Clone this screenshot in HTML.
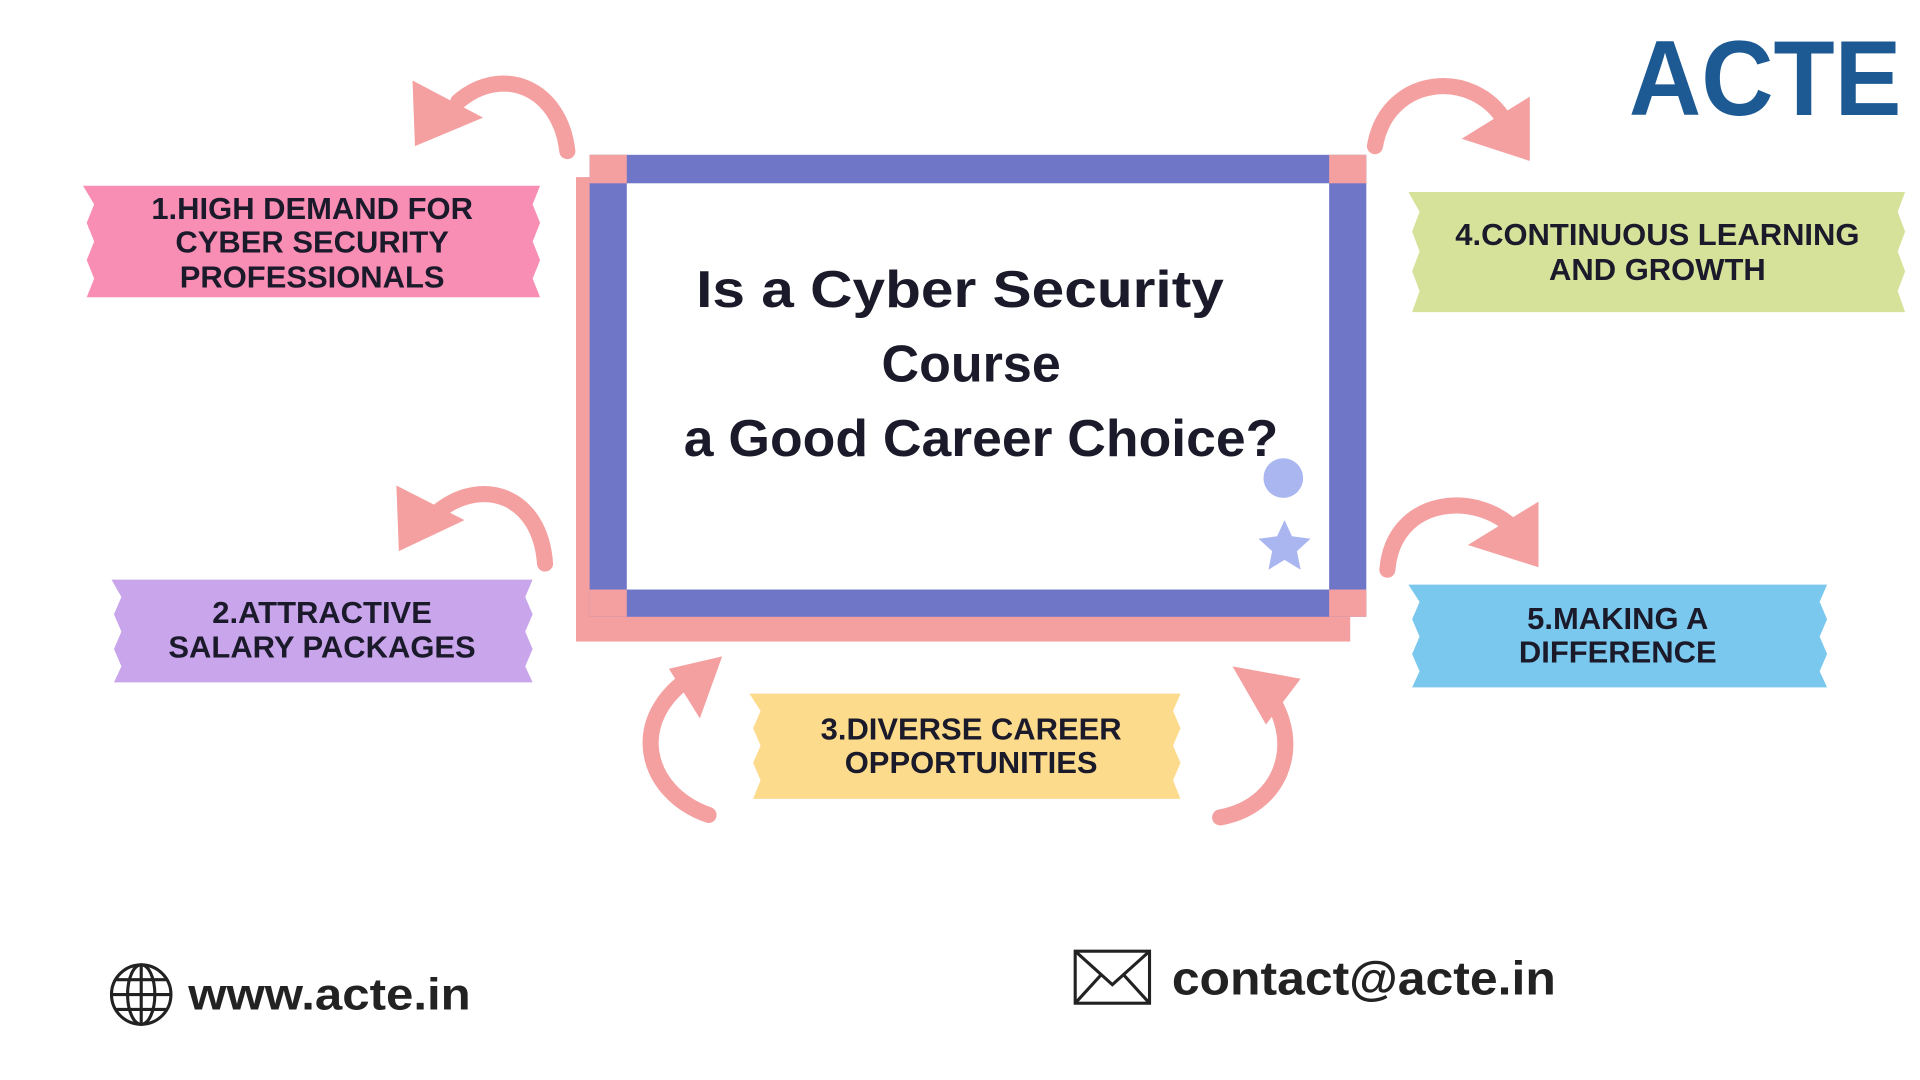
<!DOCTYPE html>
<html><head><meta charset="utf-8"><style>
html,body{margin:0;padding:0;background:#fff;overflow:hidden}
svg{display:block}
.t{font-family:"Liberation Sans",sans-serif;font-weight:bold;fill:#1a1a2a}
</style></head><body>
<svg width="1920" height="1080" viewBox="0 0 1550 872" preserveAspectRatio="none" xmlns="http://www.w3.org/2000/svg">
<rect width="1550" height="872" fill="#fff"/>
<rect x="465" y="143" width="625" height="375" fill="#f5a0a0"/>
<rect x="476" y="125" width="627" height="373" fill="#6f76c8"/>
<rect x="506" y="148" width="567" height="328" fill="#fff"/>
<rect x="476" y="125" width="30" height="23" fill="#f5a0a0"/>
<rect x="1073" y="125" width="30" height="23" fill="#f5a0a0"/>
<rect x="476" y="476" width="30" height="22" fill="#f5a0a0"/>
<rect x="1073" y="476" width="30" height="22" fill="#f5a0a0"/>
<text class="t" font-size="42" text-anchor="middle"><tspan x="775" y="248" textLength="426" lengthAdjust="spacingAndGlyphs">Is a Cyber Security</tspan><tspan x="784" y="308">Course</tspan><tspan x="792" y="368" textLength="480" lengthAdjust="spacingAndGlyphs">a Good Career Choice?</tspan></text>
<circle cx="1036" cy="386" r="16" fill="#a9b6f0"/>
<polygon points="1037,420 1043,433 1058,435 1047,445 1050,460 1037,452 1024,460 1027,445 1016,435 1031,433" fill="#a9b6f0"/>
<polygon points="67,150 436,150 430,165 436,180 430,195 436,210 430,225 436,240 70,240 76,225 70,210 76,195 70,180 76,165" fill="#f98eb5"/>
<text class="t" font-size="25" text-anchor="middle"><tspan x="252" y="177">1.HIGH DEMAND FOR</tspan><tspan x="252" y="204">CYBER SECURITY</tspan><tspan x="252" y="232">PROFESSIONALS</tspan></text>
<polygon points="90,468 430,468 424,482 430,496 424,510 430,524 424,538 430,551 92,551 98,538 92,524 98,510 92,496 98,482" fill="#c9a5ec"/>
<text class="t" font-size="25" text-anchor="middle"><tspan x="260" y="503">2.ATTRACTIVE</tspan><tspan x="260" y="531">SALARY PACKAGES</tspan></text>
<polygon points="605,560 953,560 947,574 953,588 947,602 953,616 947,630 953,645 608,645 614,630 608,616 614,602 608,588 614,574" fill="#fcdb8c"/>
<text class="t" font-size="25" text-anchor="middle"><tspan x="784" y="597">3.DIVERSE CAREER</tspan><tspan x="784" y="624">OPPORTUNITIES</tspan></text>
<polygon points="1137,155 1538,155 1532,171 1538,187 1532,203 1538,219 1532,235 1538,252 1140,252 1146,235 1140,219 1146,203 1140,187 1146,171" fill="#d6e29a"/>
<text class="t" font-size="25" text-anchor="middle"><tspan x="1338" y="198">4.CONTINUOUS LEARNING</tspan><tspan x="1338" y="226">AND GROWTH</tspan></text>
<polygon points="1137,472 1475,472 1469,486 1475,500 1469,514 1475,528 1469,542 1475,555 1140,555 1146,542 1140,528 1146,514 1140,500 1146,486" fill="#7ac8ed"/>
<text class="t" font-size="25" text-anchor="middle"><tspan x="1306" y="508">5.MAKING A</tspan><tspan x="1306" y="535">DIFFERENCE</tspan></text>
<g fill="none" stroke="#f5a0a0" stroke-width="13" stroke-linecap="round">
<path d="M458,122 C452,70 405,52 370,82"/>
<path d="M440,455 C436,400 390,385 355,412"/>
<path d="M1110,118 C1120,60 1190,55 1215,98"/>
<path d="M1120,460 C1125,400 1195,395 1225,430"/>
<path d="M572,658 C520,640 505,580 560,545"/>
<path d="M985,660 C1040,650 1055,590 1015,550"/>
</g>
<g fill="#f5a0a0">
<polygon points="333,65 335,118 390,95"/>
<polygon points="320,392 322,445 375,420"/>
<polygon points="1235,78 1235,130 1180,112"/>
<polygon points="1242,405 1242,458 1185,440"/>
<polygon points="540,540 583,530 565,580"/>
<polygon points="995,538 1050,548 1022,585"/>
</g>
<text x="1425" y="93" font-family="Liberation Sans,sans-serif" font-size="86" font-weight="bold" fill="#1d5a93" text-anchor="middle" textLength="220" lengthAdjust="spacingAndGlyphs">ACTE</text>
<g fill="none" stroke="#222" stroke-width="2.5">
<circle cx="114" cy="803" r="24"/>
<ellipse cx="114" cy="803" rx="11" ry="24"/>
<line x1="114" y1="779" x2="114" y2="827"/>
<line x1="90" y1="803" x2="138" y2="803"/>
<line x1="94" y1="791" x2="134" y2="791"/>
<line x1="94" y1="815" x2="134" y2="815"/>
<rect x="868" y="768" width="60" height="42"/>
<polyline points="868,768 898,795 928,768"/>
<line x1="868" y1="810" x2="889" y2="787"/>
<line x1="928" y1="810" x2="907" y2="787"/>
</g>
<text x="152" y="815" font-family="Liberation Sans,sans-serif" font-weight="bold" font-size="36" fill="#222" textLength="228" lengthAdjust="spacingAndGlyphs">www.acte.in</text>
<text x="946" y="803" font-family="Liberation Sans,sans-serif" font-weight="bold" font-size="38" fill="#222" textLength="310" lengthAdjust="spacingAndGlyphs">contact@acte.in</text>
</svg>
</body></html>
